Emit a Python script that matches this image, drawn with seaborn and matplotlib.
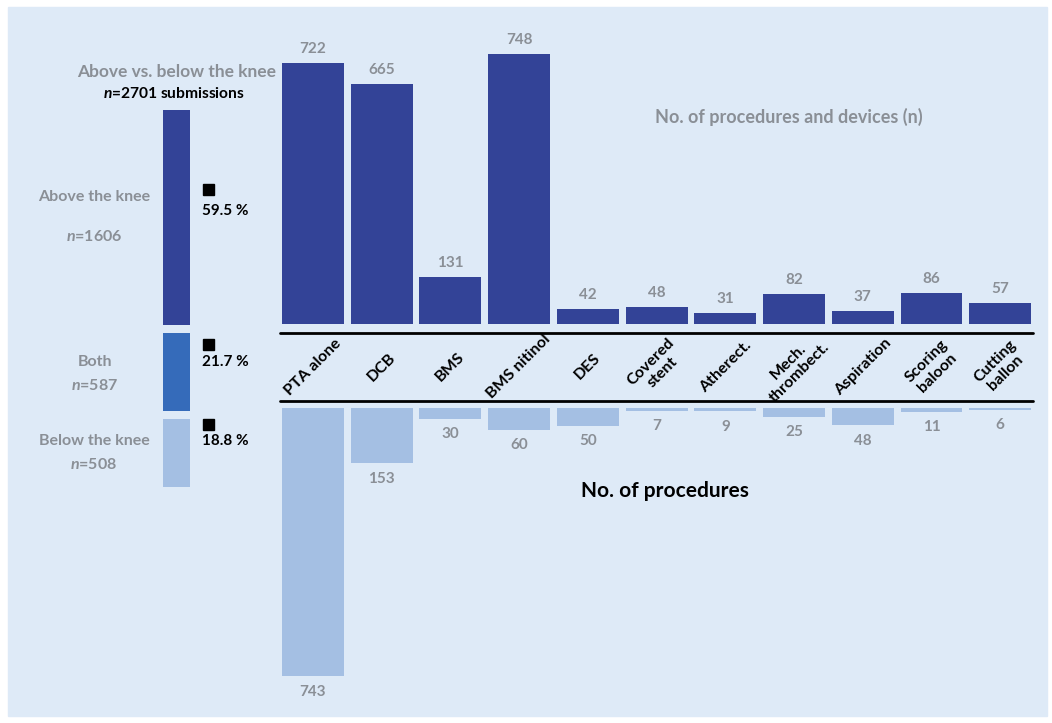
import matplotlib
matplotlib.use("Agg")
import matplotlib.pyplot as plt
from matplotlib.patches import Rectangle
from matplotlib.lines import Line2D
import seaborn as sns
import pandas as pd

# data
categories = ["PTA alone", "DCB", "BMS", "BMS nitinol", "DES", "Covered\nstent",
              "Atherect.", "Mech.\nthrombect.", "Aspiration", "Scoring\nbaloon", "Cutting\nballon"]
devices_n = [722, 665, 131, 748, 42, 48, 31, 82, 37, 86, 57]
procedures_n = [743, 153, 30, 60, 50, 7, 9, 25, 48, 11, 6]

location_labels = ["Above the knee", "Both", "Below the knee"]
location_n = [1606, 587, 508]
location_pct = ["59.5 %", "21.7 %", "18.8 %"]

DARK = "#334397"
MID = "#356BBA"
LIGHT = "#A4BFE3"
BG = "#DEEAF7"
GREY = "#8A8F96"

sns.set_theme(style="white")
plt.rcParams["font.family"] = ["Lato", "DejaVu Sans"]
plt.rcParams["mathtext.fontset"] = "custom"
plt.rcParams["mathtext.rm"] = "Lato:bold"
plt.rcParams["mathtext.it"] = "Lato:bold:italic"

W, H = 1052, 723
fig = plt.figure(figsize=(W / 100, H / 100), dpi=100, facecolor="white")

def box(x0, y0, x1, y1):
    # pixel box (top-left origin) -> figure fraction rect
    return [x0 / W, 1 - y1 / H, (x1 - x0) / W, (y1 - y0) / H]

def ftext(x, y, s, **kw):
    fig.text(x / W, 1 - y / H, s, **kw)

fig.patches.append(Rectangle((8 / W, 1 - 716 / H), 1039 / W, 709 / H,
                             transform=fig.transFigure, color=BG, zorder=-5))

df = pd.DataFrame({"category": categories, "devices": devices_n, "procedures": procedures_n})

# top: procedures and devices
ax_top = fig.add_axes(box(278.6, 30, 1034.6, 324))
sns.barplot(data=df, x="category", y="devices", color=DARK, saturation=1,
            width=0.9, linewidth=0, ax=ax_top)
ax_top.set_ylim(0, 814)
ax_top.bar_label(ax_top.containers[0], padding=5, color=GREY, fontsize=11,
                 fontweight="bold")

# bottom: procedures
ax_bot = fig.add_axes(box(278.6, 408, 1034.6, 700))
sns.barplot(data=df, x="category", y="procedures", color=LIGHT, saturation=1,
            width=0.9, linewidth=0, ax=ax_bot)
ax_bot.set_ylim(809, 0)
ax_bot.bar_label(ax_bot.containers[0], padding=6, color=GREY, fontsize=11,
                 fontweight="bold")

for ax in (ax_top, ax_bot):
    ax.set_facecolor("none")
    ax.set_axis_off()
    ax.set_xlim(-0.5, len(categories) - 0.5)

# category band
for yy in (333, 401):
    fig.add_artist(Line2D([280 / W, 1033 / W], [1 - yy / H] * 2, color="black", lw=2))
for i, c in enumerate(categories):
    xc = 278.6 + (i + 0.5) * 756 / len(categories)
    ftext(xc, 367, c, rotation=45, rotation_mode="anchor", ha="center", va="center",
          fontsize=11.5, fontweight="bold", color="black", linespacing=1.15)

ftext(789, 117, "No. of procedures and devices (n)", ha="center", va="center",
      fontsize=13, fontweight="bold", color=GREY)
ftext(665, 491, "No. of procedures", ha="center", va="center",
      fontsize=15, fontweight="bold", color="black")

# left: above vs below the knee
ax_left = fig.add_axes(box(150, 110, 203, 487))
gap = 60
bottoms = []
acc = 0
for v in location_n:
    bottoms.append(acc)
    acc += v + gap
acc -= gap
tops = [b + v for b, v in zip(bottoms, location_n)]
ax_left.bar([0] * 3, location_n, bottom=[acc - t for t in tops], width=0.5,
            color=[DARK, MID, LIGHT], linewidth=0)
ax_left.set_ylim(0, acc)
ax_left.set_xlim(-0.5, 0.5)
ax_left.set_facecolor("none")
ax_left.set_axis_off()

ftext(177, 72, "Above vs. below the knee", ha="center", va="center",
      fontsize=12.5, fontweight="bold", color=GREY)
ftext(174, 94, "$n$=2701 submissions", ha="center", va="center",
      fontsize=11.2, fontweight="bold", color="black")

label_pos = [(94, 197, 237), (95, 362, 385), (94, 441, 464)]
sq_pos = [189, 344, 424]
pct_pos = [211, 362, 441]
for lab, n, (xl, y1, y2), ys, yp, pct in zip(location_labels, location_n, label_pos,
                                             sq_pos, pct_pos, location_pct):
    ftext(xl, y1, lab, ha="center", va="center", fontsize=11.5, fontweight="bold", color=GREY)
    ftext(xl, y2, f"$n$={n}", ha="center", va="center", fontsize=11.5, fontweight="bold",
          color=GREY)
    fig.add_artist(Rectangle((203 / W, 1 - (ys + 5.5) / H), 11 / W, 11 / H,
                             transform=fig.transFigure, color="black"))
    ftext(202, yp, pct, ha="left", va="center", fontsize=11, fontweight="bold", color="black")

fig.savefig("out.png", dpi=100, facecolor="white")
